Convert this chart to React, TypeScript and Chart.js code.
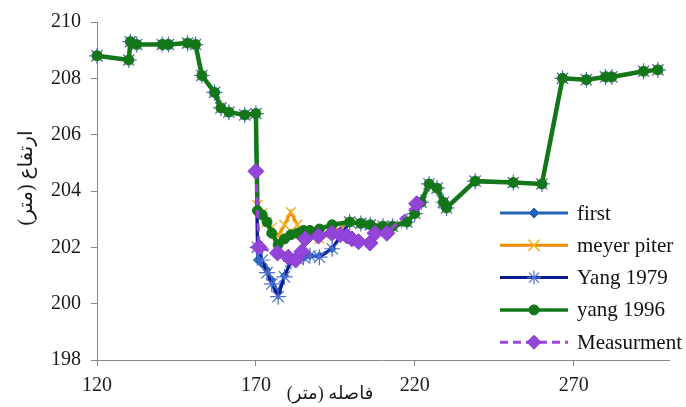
import React, { useEffect, useRef } from 'react';
import { Chart, registerables } from 'chart.js';

Chart.register(...registerables);

// ---- data ----
const distance = [120, 130, 130.5, 132.5, 140.5, 142.5, 148.5, 151, 153, 157, 159, 161.5, 166.5, 170,
  170.5, 172, 173.5, 175, 177, 179, 181, 183, 185, 187, 190, 194, 199.5, 203, 206,
  210, 213, 217.5, 220, 222, 224.5, 227, 229, 230, 239, 251, 260, 266.5, 274, 280, 282, 292, 296.5];

const firstElev = [208.8, 208.65, 209.3, 209.2, 209.2, 209.2, 209.25, 209.2, 208.1, 207.5, 206.95, 206.8, 206.7, 206.75,
  201.55, 201.4, 201.2, 200.85, 200.4, 201.0, 201.5, 201.6, 201.65, 201.7, 201.7, 201.95, 202.9, 202.85, 202.8,
  202.75, 202.75, 202.9, 203.2, 203.6, 204.25, 204.1, 203.6, 203.4, 204.35, 204.3, 204.25, 208.0, 207.95, 208.05, 208.05, 208.25, 208.3];

const meyerElev = [208.8, 208.65, 209.3, 209.2, 209.2, 209.2, 209.25, 209.2, 208.1, 207.5, 206.95, 206.8, 206.7, 206.75,
  203.5, 203.2, 202.9, 202.7, 202.4, 202.8, 203.25, 202.8, 202.45, 202.5, 202.3, 202.5, 202.9, 202.85, 202.8,
  202.75, 202.75, 202.9, 203.2, 203.6, 204.25, 204.1, 203.6, 203.4, 204.35, 204.3, 204.25, 208.0, 207.95, 208.05, 208.05, 208.25, 208.3];

const yang1979Elev = [208.8, 208.65, 209.3, 209.2, 209.2, 209.2, 209.25, 209.2, 208.1, 207.5, 206.95, 206.8, 206.7, 206.75,
  202.0, 201.55, 201.1, 200.7, 200.25, 200.95, 201.5, 201.6, 201.65, 201.7, 201.65, 201.95, 202.9, 202.85, 202.8,
  202.75, 202.75, 202.9, 203.2, 203.6, 204.25, 204.1, 203.6, 203.4, 204.35, 204.3, 204.25, 208.0, 207.95, 208.05, 208.05, 208.25, 208.3];

const yang1996Elev = [208.8, 208.65, 209.3, 209.2, 209.2, 209.2, 209.25, 209.2, 208.1, 207.5, 206.95, 206.8, 206.7, 206.75,
  203.3, 203.15, 202.9, 202.5, 202.1, 202.3, 202.45, 202.5, 202.6, 202.6, 202.65, 202.8, 202.9, 202.85, 202.8,
  202.75, 202.75, 202.9, 203.2, 203.6, 204.25, 204.1, 203.6, 203.4, 204.35, 204.3, 204.25, 208.0, 207.95, 208.05, 208.05, 208.25, 208.3];

const measDistance = [170, 171, 176.8, 180.2, 182.5, 184.5, 185.5, 189.7, 193.9, 196.5, 198.6, 200.2, 202.3, 205.9, 207.5, 211.2, 220.6];
const measElev = [204.7, 202.0, 201.8, 201.65, 201.55, 201.85, 202.3, 202.4, 202.5, 202.45, 202.4, 202.3, 202.2, 202.15, 202.5, 202.5, 203.55];

const seriesNames = ['first', 'meyer piter', 'Yang 1979', 'yang 1996', 'Measurment'];
const xTickValues = [120, 170, 220, 270];
const xTitle = 'فاصله (متر)';
const yTitle = 'ارتفاع (متر)';

const SERIF = '"Liberation Serif", "Times New Roman", "DejaVu Sans", serif';
const ARABIC = '"Liberation Serif", "DejaVu Sans", serif';

const pts = (xs: number[], ys: number[]) => xs.map((x, i) => ({ x, y: ys[i] }));

function drawMarker(ctx: CanvasRenderingContext2D, style: string, x: number, y: number, r: number,
  fill: string, stroke: string, lw: number) {
  ctx.save();
  ctx.fillStyle = fill;
  ctx.strokeStyle = stroke;
  ctx.lineWidth = lw;
  ctx.setLineDash([]);
  ctx.beginPath();
  if (style === 'rectRot') {
    ctx.moveTo(x, y - r); ctx.lineTo(x + r, y); ctx.lineTo(x, y + r); ctx.lineTo(x - r, y); ctx.closePath();
    ctx.fill(); ctx.stroke();
  } else if (style === 'circle') {
    ctx.arc(x, y, r, 0, Math.PI * 2); ctx.fill(); ctx.stroke();
  } else if (style === 'crossRot') {
    const d = r * Math.SQRT1_2;
    ctx.moveTo(x - d, y - d); ctx.lineTo(x + d, y + d); ctx.moveTo(x + d, y - d); ctx.lineTo(x - d, y + d);
    ctx.stroke();
  } else if (style === 'star') {
    const d = r * Math.SQRT1_2;
    ctx.moveTo(x - d, y - d); ctx.lineTo(x + d, y + d); ctx.moveTo(x + d, y - d); ctx.lineTo(x - d, y + d);
    ctx.moveTo(x, y - r); ctx.lineTo(x, y + r); ctx.moveTo(x - r, y); ctx.lineTo(x + r, y);
    ctx.stroke();
  }
  ctx.restore();
}

const overlayPlugin = {
  id: 'overlay',
  afterDraw(chart: any) {
    const ctx: CanvasRenderingContext2D = chart.ctx;
    const area = chart.chartArea;
    // y title
    ctx.save();
    ctx.font = `20px ${ARABIC}`;
    ctx.fillStyle = '#1a1a1a';
    (ctx as any).direction = 'rtl';
    ctx.textAlign = 'center';
    ctx.textBaseline = 'middle';
    ctx.translate(area.left - 70, area.top + 156);
    ctx.rotate(-Math.PI / 2);
    ctx.fillText(yTitle, 0, 0);
    ctx.restore();
    // x title
    ctx.save();
    ctx.font = `18px ${ARABIC}`;
    ctx.fillStyle = '#1a1a1a';
    (ctx as any).direction = 'rtl';
    ctx.textAlign = 'center';
    ctx.textBaseline = 'middle';
    ctx.fillText(xTitle, 330, area.bottom + 34);
    ctx.restore();
    // legend
    const lx0 = 500, lx1 = 568, tx = 577, ty0 = 213, dy = 32.3;
    chart.data.datasets.forEach((ds: any, i: number) => {
      const y = ty0 + i * dy;
      ctx.save();
      ctx.strokeStyle = ds.borderColor;
      ctx.lineWidth = Math.min(ds.borderWidth, 3.5);
      ctx.setLineDash(ds.borderDash || []);
      ctx.beginPath();
      ctx.moveTo(lx0, y);
      ctx.lineTo(lx1, y);
      ctx.stroke();
      ctx.restore();
      drawMarker(ctx, ds.pointStyle, (lx0 + lx1) / 2, y, ds.legendRadius,
        ds.pointBackgroundColor, ds.pointBorderColor, ds.pointBorderWidth);
      ctx.save();
      ctx.font = `21px ${SERIF}`;
      ctx.fillStyle = '#111';
      ctx.textAlign = 'left';
      ctx.textBaseline = 'middle';
      ctx.fillText(ds.label, tx, y + 1);
      ctx.restore();
    });
  },
};

export default function App() {
  const canvasRef = useRef<HTMLCanvasElement | null>(null);

  useEffect(() => {
    const canvas = canvasRef.current;
    if (!canvas) return;
    const chart = new Chart(canvas, {
      type: 'line',
      data: {
        datasets: [
          {
            label: seriesNames[0],
            data: pts(distance, firstElev),
            borderColor: '#1E63B5',
            borderWidth: 3,
            pointStyle: 'rectRot',
            pointRadius: 4,
            pointBackgroundColor: '#1E63B5',
            pointBorderColor: '#1E63B5',
            pointBorderWidth: 1,
            legendRadius: 5,
            order: 5,
            clip: false,
          },
          {
            label: seriesNames[1],
            data: pts(distance, meyerElev),
            borderColor: '#F08C00',
            borderWidth: 3,
            pointStyle: 'crossRot',
            pointRadius: 7,
            pointBackgroundColor: '#F5B323',
            pointBorderColor: '#F5B323',
            pointBorderWidth: 1.5,
            legendRadius: 8,
            order: 4,
            clip: false,
          },
          {
            label: seriesNames[2],
            data: pts(distance, yang1979Elev),
            borderColor: '#0B1A8F',
            borderWidth: 3,
            pointStyle: 'star',
            pointRadius: 8,
            pointBackgroundColor: '#4A6FD0',
            pointBorderColor: '#4A6FD0',
            pointBorderWidth: 1.2,
            legendRadius: 7,
            order: 3,
            clip: false,
          },
          {
            label: seriesNames[3],
            data: pts(distance, yang1996Elev),
            borderColor: '#13771A',
            borderWidth: 4.5,
            pointStyle: 'circle',
            pointRadius: 5,
            pointBackgroundColor: '#13771A',
            pointBorderColor: '#13771A',
            pointBorderWidth: 1,
            legendRadius: 5,
            order: 2,
            clip: false,
          },
          {
            label: seriesNames[4],
            data: pts(measDistance, measElev),
            borderColor: '#9B45DD',
            borderWidth: 3,
            borderDash: [8, 5],
            pointStyle: 'rectRot',
            pointRadius: 8,
            pointBackgroundColor: '#9245D8',
            pointBorderColor: '#8A3CCF',
            pointBorderWidth: 1,
            legendRadius: 7,
            order: 1,
            clip: false,
          },
        ] as any,
      },
      options: {
        animation: false,
        responsive: true,
        maintainAspectRatio: false,
        layout: { padding: { left: 0, top: 22, right: 17, bottom: 0 } },
        plugins: {
          legend: { display: false },
          tooltip: { enabled: false },
          title: { display: false },
        },
        elements: { line: { tension: 0 } },
        scales: {
          x: {
            type: 'linear',
            min: 120,
            max: 300,
            afterBuildTicks: (scale: any) => {
              scale.ticks = xTickValues.map((v) => ({ value: v }));
            },
            afterFit: (scale: any) => { scale.height = 47; },
            grid: { display: true, drawOnChartArea: false, drawTicks: true, tickLength: 6, color: '#888' },
            border: { display: true, color: '#888', width: 1 },
            ticks: { font: { family: SERIF, size: 20 }, color: '#1a1a1a', padding: 8, maxRotation: 0 },
          },
          y: {
            type: 'linear',
            min: 198,
            max: 210,
            afterFit: (scale: any) => { scale.width = 97; },
            grid: { display: true, drawOnChartArea: false, drawTicks: true, tickLength: 6, color: '#888' },
            border: { display: true, color: '#888', width: 1 },
            ticks: { stepSize: 2, font: { family: SERIF, size: 20 }, color: '#1a1a1a', padding: 10 },
          },
        },
      } as any,
      plugins: [overlayPlugin],
    });
    return () => chart.destroy();
  }, []);

  return (
    <div style={{ position: 'fixed', left: 0, top: 0, width: 686, height: 407, background: '#fff' }}>
      <canvas ref={canvasRef} />
    </div>
  );
}
